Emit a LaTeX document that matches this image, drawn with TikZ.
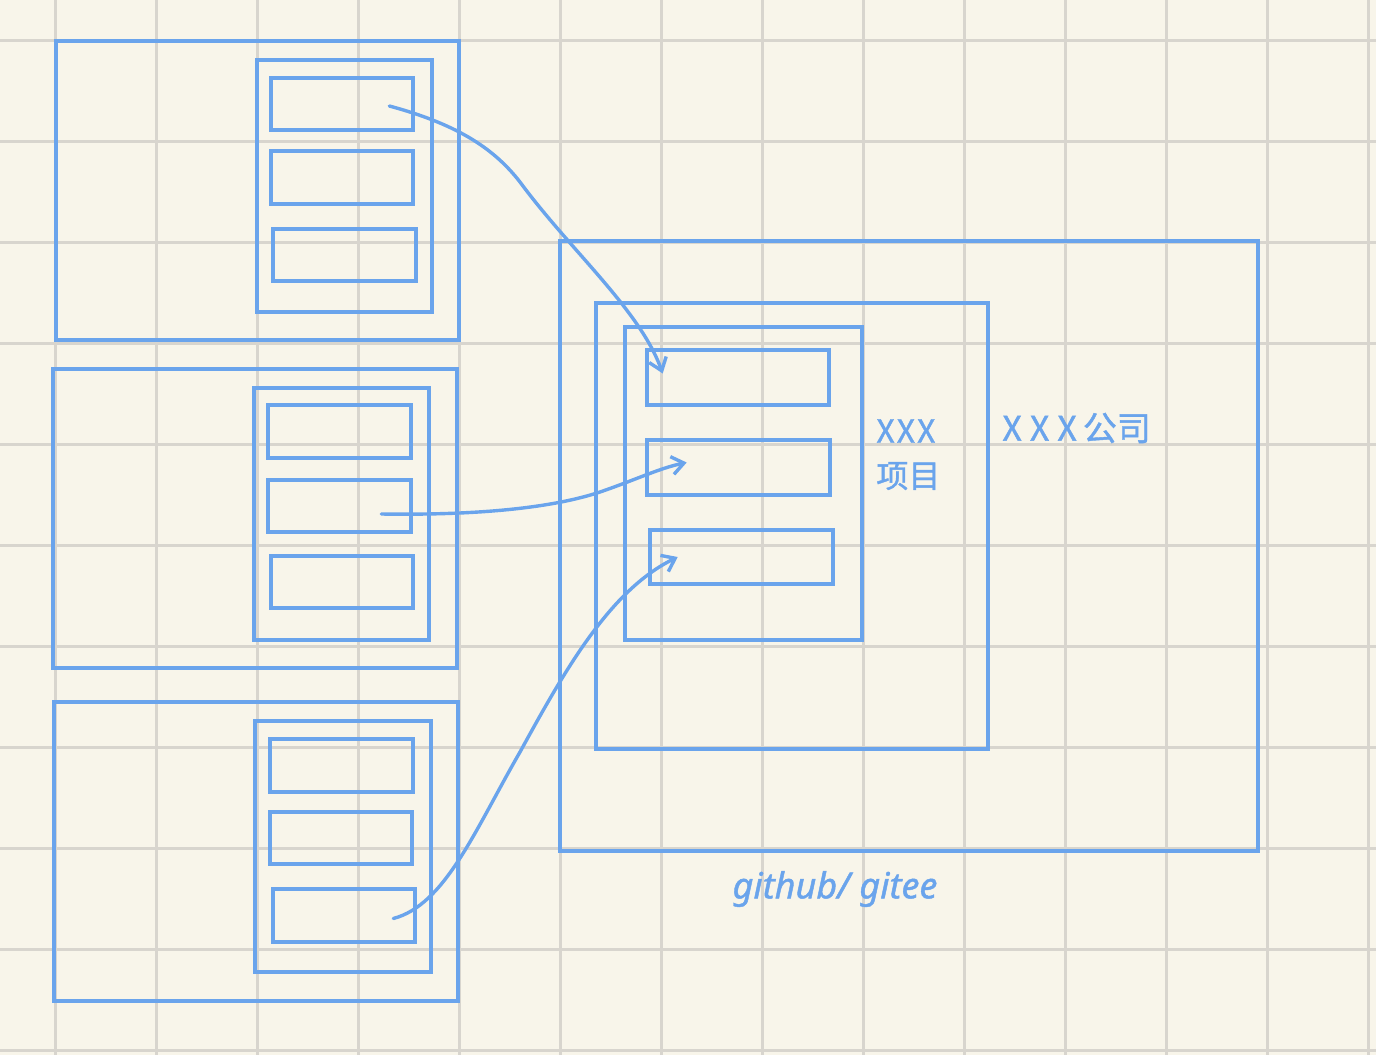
\documentclass[tikz,border=0pt]{standalone}
\usepackage{fontspec}
\setmainfont{Noto Sans}
\newfontfamily\lab{Noto Sans CJK SC}[FakeBold=1.2]
\newfontfamily\labit{Noto Sans}[FakeBold=1.2]
\usetikzlibrary{fit,arrows.meta}
\definecolor{paper}{HTML}{F8F5EA}
\definecolor{gridc}{HTML}{D8D5CE}
\definecolor{pen}{HTML}{6AA4EC}
\tikzset{
  frame/.style={draw=pen,line width=2.3pt,inner sep=0pt,fill=none},
  link/.style={draw=pen,line width=1.7pt,line cap=round,-{Straight Barb[length=6pt,width=9pt,line width=1.7pt]}},
  label/.style={text=pen,inner sep=0pt},
}
\newcommand\mybox[5]{\node[frame,fit={(#2,#3) (#4,#5)}] (#1) {};}
\begin{document}
\begin{tikzpicture}[x=0.5pt,y=-0.5pt]
\fill[paper] (0,0) rectangle (1376,1055);
\useasboundingbox (0,0) rectangle (1376,1055);
\foreach \gx in {55,156,257,358,459,560,661,762,863,964,1065,1166,1267,1368}
  \draw[gridc,line width=1.5pt] (\gx,0) -- (\gx,1055);
\foreach \gy in {40,141,242,343,444,545,646,747,848,949,1050}
  \draw[gridc,line width=1.5pt] (0,\gy) -- (1376,\gy);
% left group 1
\mybox{g1}{56}{41}{459}{340}
\mybox{g1i}{257}{60}{432}{312}
\mybox{a1}{271}{78}{413}{130}
\mybox{a2}{271}{151}{413}{204}
\mybox{a3}{273}{229}{416}{281}
% left group 2
\mybox{g2}{53}{369}{457}{668}
\mybox{g2i}{254}{388}{429}{640}
\mybox{b1}{268}{405}{411}{458}
\mybox{b2}{268}{480}{411}{532}
\mybox{b3}{271}{556}{413}{608}
% left group 3
\mybox{g3}{54}{702}{458}{1001}
\mybox{g3i}{255}{721}{431}{972}
\mybox{c1}{270}{739}{413}{792}
\mybox{c2}{270}{812}{412}{864}
\mybox{c3}{273}{889}{415}{942}
% right side
\mybox{host}{560}{241}{1258}{851}
\mybox{org}{596}{303}{988}{749}
\mybox{proj}{625}{327}{862}{640}
\mybox{r1}{647}{350}{829}{405}
\mybox{r2}{647}{440}{830}{495}
\mybox{r3}{650}{530}{833}{584}
% labels
\node[label,font=\lab\fontsize{16}{16}\selectfont,anchor=west] (lx) at (876,431) {X\kern1pt X\kern1pt X};
\node[label,font=\lab\fontsize{16}{16}\selectfont,anchor=west] (lp) at (876,476) {项目};
\node[label,font=\lab\fontsize{17}{17}\selectfont,anchor=west] (lc) at (1002,428) {X\kern4pt X\kern4pt X\kern3pt 公司};
\node[label,font=\labit\itshape\fontsize{18}{18}\selectfont] (lg) at (835,889) {github/ gitee};
% connectors
\coordinate (s1) at ([xshift=-13pt,yshift=-1pt]a1.east);
\coordinate (e1) at ([xshift=9pt,yshift=2pt]r1.west);
\coordinate (s2) at ([xshift=-16pt,yshift=-4pt]b2.east);
\coordinate (e2) at ([xshift=21pt,yshift=2.5pt]r2.west);
\coordinate (s3) at ([xshift=-12pt,yshift=-1.5pt]c3.east);
\coordinate (e3) at ([xshift=15pt,yshift=0pt]r3.west);
\draw[link] (s1) .. controls (460,125) and (495,150) .. (520,182)
  .. controls (570,250) and (640,310) .. (e1);
\draw[link] (s2) .. controls (450,515) and (540,512) .. (600,492)
  .. controls (635,480) and (660,468) .. (e2);
\draw[link] (s3) .. controls (445,905) and (475,830) .. (520,752)
  .. controls (565,670) and (610,590) .. (e3);
\end{tikzpicture}
\end{document}
